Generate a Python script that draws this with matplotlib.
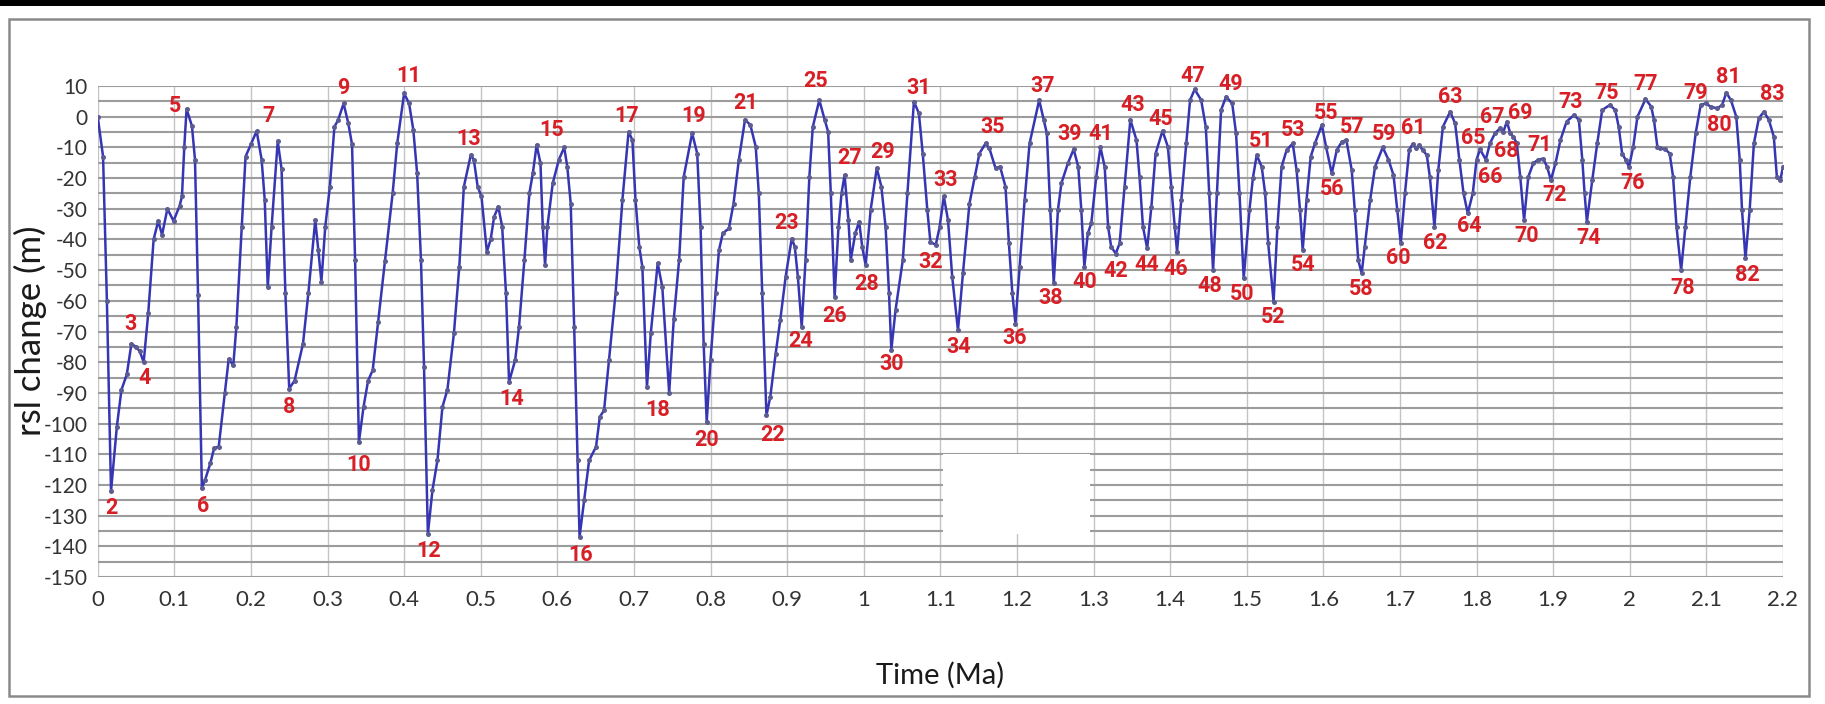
import numpy as np
import matplotlib.pyplot as plt
from matplotlib.patches import Rectangle

# Relative sea level reconstruction, 0-2.2 Ma
time_ma = [
    0.000, 0.007, 0.012, 0.0174, 0.025, 0.031, 0.038, 0.044, 0.050, 0.055,
    0.060, 0.066, 0.073, 0.079, 0.084, 0.091, 0.099, 0.107, 0.110, 0.113,
    0.116, 0.123, 0.127, 0.131, 0.136, 0.140, 0.147, 0.152, 0.158, 0.166,
    0.171, 0.177, 0.181, 0.188, 0.193, 0.200, 0.2075, 0.214, 0.218, 0.222,
    0.227, 0.235, 0.240, 0.245, 0.250, 0.257, 0.268, 0.275, 0.284, 0.288,
    0.292, 0.297, 0.303, 0.309, 0.314, 0.321, 0.327, 0.332, 0.336, 0.341,
    0.347, 0.353, 0.359, 0.366, 0.375, 0.385, 0.391, 0.400, 0.4065, 0.412,
    0.417, 0.422, 0.426, 0.431, 0.437, 0.4435, 0.450, 0.4565, 0.465, 0.472,
    0.478, 0.487, 0.491, 0.496, 0.501, 0.508, 0.513, 0.5175, 0.523, 0.528,
    0.533, 0.537, 0.545, 0.550, 0.557, 0.5635, 0.568, 0.573, 0.578, 0.581,
    0.584, 0.587, 0.594, 0.602, 0.609, 0.613, 0.6175, 0.622, 0.6265, 0.629,
    0.635, 0.6415, 0.6505, 0.6555, 0.661, 0.6675, 0.676, 0.685, 0.693, 0.698,
    0.702, 0.707, 0.711, 0.717, 0.722, 0.731, 0.737, 0.746, 0.752, 0.759,
    0.765, 0.776, 0.7826, 0.787, 0.791, 0.795, 0.800, 0.8065, 0.811, 0.816,
    0.824, 0.830, 0.837, 0.845, 0.852, 0.859, 0.863, 0.8675, 0.873, 0.878,
    0.885, 0.891, 0.898, 0.906, 0.910, 0.914, 0.919, 0.924, 0.929, 0.9335,
    0.942, 0.949, 0.9535, 0.957, 0.962, 0.967, 0.971, 0.975, 0.980, 0.983,
    0.989, 0.994, 0.998, 1.0025, 1.009, 1.017, 1.023, 1.0285, 1.033, 1.036,
    1.0415, 1.051, 1.057, 1.0655, 1.072, 1.077, 1.083, 1.087, 1.094, 1.099,
    1.1045, 1.110, 1.1155, 1.123, 1.1295, 1.138, 1.145, 1.151, 1.159, 1.164,
    1.172, 1.178, 1.185, 1.1895, 1.194, 1.198, 1.2035, 1.210, 1.2165, 1.229,
    1.235, 1.239, 1.2435, 1.248, 1.2535, 1.258, 1.2665, 1.274, 1.280, 1.284,
    1.288, 1.2925, 1.297, 1.3035, 1.309, 1.3145, 1.319, 1.323, 1.329, 1.334,
    1.3405, 1.348, 1.356, 1.360, 1.3645, 1.370, 1.3755, 1.381, 1.390, 1.397,
    1.4015, 1.406, 1.409, 1.4145, 1.421, 1.426, 1.432, 1.4405, 1.4465, 1.451,
    1.456, 1.461, 1.4665, 1.473, 1.481, 1.486, 1.4905, 1.496, 1.5035, 1.508,
    1.513, 1.5195, 1.524, 1.528, 1.535, 1.540, 1.5455, 1.552, 1.560, 1.565,
    1.5695, 1.573, 1.578, 1.5835, 1.589, 1.598, 1.6035, 1.611, 1.6175, 1.624,
    1.630, 1.637, 1.641, 1.6455, 1.650, 1.654, 1.661, 1.6675, 1.6775, 1.685,
    1.6915, 1.6965, 1.701, 1.7065, 1.712, 1.7165, 1.721, 1.725, 1.7295, 1.735,
    1.739, 1.745, 1.750, 1.756, 1.7655, 1.772, 1.7775, 1.783, 1.7885, 1.795,
    1.800, 1.8045, 1.812, 1.8175, 1.824, 1.8305, 1.835, 1.8395, 1.844, 1.848,
    1.8525, 1.857, 1.862, 1.8675, 1.874, 1.8805, 1.887, 1.892, 1.897, 1.903,
    1.9095, 1.9175, 1.927, 1.9335, 1.938, 1.941, 1.944, 1.951, 1.9575, 1.964,
    1.974, 1.981, 1.9855, 1.990, 1.9945, 1.999, 2.0045, 2.010, 2.0205, 2.028,
    2.0315, 2.036, 2.040, 2.0465, 2.052, 2.0565, 2.061, 2.067, 2.0725, 2.079,
    2.086, 2.0925, 2.099, 2.1055, 2.114, 2.1205, 2.126, 2.132, 2.139, 2.1435,
    2.1465, 2.151, 2.1565, 2.162, 2.1685, 2.175, 2.1815, 2.188, 2.192, 2.1965,
    2.200,
]
rsl_m = [
    0.0, -13.0, -60.0, -122.0, -101.0, -89.0, -84.0, -74.0, -75.0, -76.5,
    -80.0, -64.0, -40.0, -34.0, -38.5, -30.0, -34.0, -29.0, -26.0, -10.0,
    2.5, -3.0, -14.0, -58.0, -121.0, -118.5, -113.0, -108.0, -107.5, -90.0,
    -79.0, -81.0, -68.5, -36.0, -13.0, -9.0, -4.7, -14.0, -27.0, -55.5,
    -36.0, -8.0, -17.0, -57.5, -88.6, -86.0, -74.0, -57.5, -33.7, -43.5,
    -53.8, -36.0, -23.0, -3.3, -1.0, 4.3, -2.0, -9.0, -46.7, -106.0,
    -94.6, -86.0, -82.6, -67.0, -47.0, -25.0, -8.7, 7.6, 4.3, -4.3,
    -18.5, -46.7, -81.5, -136.0, -121.7, -112.0, -94.6, -89.0, -70.6, -49.0,
    -22.8, -12.5, -14.0, -22.8, -26.0, -44.0, -40.0, -32.6, -29.3, -35.9,
    -57.6, -86.4, -79.3, -68.5, -46.7, -25.0, -18.5, -9.2, -15.2, -35.9,
    -48.4, -35.9, -21.7, -14.0, -10.0, -16.3, -28.3, -68.5, -112.0, -137.0,
    -125.0, -112.0, -107.6, -97.8, -95.7, -79.3, -57.6, -27.0, -4.9, -7.6,
    -27.0, -42.4, -49.0, -88.0, -70.6, -47.8, -55.4, -90.0, -66.0, -46.7,
    -19.6, -5.4, -12.0, -35.9, -74.0, -99.5, -79.3, -57.6, -43.5, -38.0,
    -36.4, -28.3, -14.0, -1.0, -2.7, -9.8, -25.0, -57.6, -97.3, -91.3,
    -77.2, -66.3, -52.2, -39.7, -42.4, -52.2, -68.5, -46.7, -19.6, -3.3,
    5.4, -1.0, -4.9, -25.0, -58.7, -35.9, -25.0, -19.0, -33.7, -46.7,
    -38.0, -34.2, -42.4, -48.4, -30.4, -16.8, -22.8, -35.9, -57.6, -76.0,
    -63.0, -46.7, -25.0, 4.9, 1.1, -12.0, -30.4, -40.8, -41.8, -36.0,
    -26.0, -33.7, -52.2, -69.6, -51.0, -28.3, -19.6, -12.0, -8.7, -10.3,
    -16.8, -16.3, -22.8, -41.3, -57.6, -67.4, -48.9, -27.2, -8.7, 5.4,
    -1.0, -5.4, -30.4, -54.3, -30.4, -21.7, -15.2, -10.6, -16.3, -30.4,
    -48.9, -38.0, -34.8, -19.6, -10.0, -16.3, -35.9, -42.4, -44.6, -41.3,
    -22.8, -1.0, -7.6, -19.6, -35.9, -42.9, -29.3, -12.0, -4.6, -9.8,
    -22.8, -35.9, -44.0, -27.2, -8.7, 5.4, 8.9, 5.4, -3.3, -25.0,
    -50.0, -25.0, 2.2, 6.5, 4.3, -5.4, -25.0, -52.7, -30.4, -20.0,
    -12.5, -16.3, -25.0, -41.3, -60.3, -35.9, -16.3, -10.9, -8.7, -17.4,
    -30.4, -43.5, -27.2, -13.0, -8.7, -2.7, -9.8, -18.5, -10.9, -8.2,
    -7.6, -17.4, -30.4, -46.7, -51.0, -42.4, -27.2, -16.3, -10.0, -14.0,
    -19.0, -30.4, -41.3, -25.0, -10.9, -8.9, -10.3, -9.2, -10.9, -12.5,
    -19.6, -35.9, -17.4, -3.3, 1.6, -2.2, -14.0, -25.0, -31.5, -25.0,
    -14.0, -10.6, -14.0, -8.7, -5.4, -3.8, -4.9, -1.6, -5.4, -6.5,
    -8.7, -19.6, -33.7, -19.6, -15.2, -14.0, -13.7, -16.3, -20.7, -15.2,
    -7.6, -1.6, 0.5, -1.0, -14.0, -25.0, -34.2, -20.7, -8.7, 2.2,
    3.8, 2.2, -3.3, -12.0, -14.0, -16.3, -9.8, 0.0, 5.7, 3.3,
    -1.0, -9.8, -10.3, -10.6, -12.0, -19.6, -35.9, -50.0, -35.9, -19.6,
    -5.4, 3.8, 4.3, 3.3, 2.7, 3.8, 7.8, 5.4, 0.0, -14.0,
    -30.4, -46.2, -30.4, -8.7, -0.5, 1.6, -1.0, -6.5, -19.6, -20.7,
    -16.3,
]

# Numbered highstands (odd) and lowstands (even) and the time of each one
event_ids = list(range(2, 84))
event_time = [
    0.0174, 0.044, 0.060, 0.116, 0.136, 0.2075, 0.250, 0.321, 0.341, 0.400,
    0.431, 0.487, 0.537, 0.609, 0.629, 0.693, 0.746, 0.776, 0.795, 0.845,
    0.873, 0.906, 0.919, 0.942, 0.962, 0.975, 1.0025, 1.017, 1.036, 1.0655,
    1.094, 1.1045, 1.123, 1.159, 1.198, 1.229, 1.248, 1.274, 1.288, 1.309,
    1.329, 1.348, 1.370, 1.390, 1.409, 1.432, 1.456, 1.473, 1.496, 1.513,
    1.535, 1.560, 1.573, 1.598, 1.611, 1.630, 1.650, 1.6775, 1.701, 1.7165,
    1.745, 1.7655, 1.7885, 1.8045, 1.812, 1.8305, 1.848, 1.8395, 1.862, 1.887,
    1.897, 1.927, 1.944, 1.974, 1.999, 2.0205, 2.067, 2.099, 2.114, 2.126,
    2.151, 2.175,
]

# label offsets from the point (pixels, +dy = downwards)
label_offset = {
    2: (0, 17), 3: (-1, -20), 4: (1, 16), 5: (-12, -3), 6: (1, 18), 7: (12, -15),
    8: (0, 18), 9: (0, -15), 10: (0, 23), 11: (5, -17), 12: (1, 17), 13: (-2, -16),
    14: (3, 17), 15: (-13, -17), 16: (1, 18), 17: (-2, -16), 18: (-12, 17),
    19: (1, -17), 20: (0, 18), 21: (1, -17), 22: (6, 20), 23: (-5, -16), 24: (-1, 14),
    25: (-4, -19), 26: (0, 19), 27: (5, -17), 28: (1, 19), 29: (6, -16), 30: (0, 14),
    31: (5, -14), 32: (-5, 17), 33: (2, -16), 34: (1, 17), 35: (7, -16), 36: (-1, 14),
    37: (3, -14), 38: (-3, 15), 39: (-4, -15), 40: (0, 15), 41: (0, -13), 42: (0, 17),
    43: (2, -15), 44: (0, 17), 45: (-2, -12), 46: (-1, 17), 47: (-2, -13), 48: (-3, 16),
    49: (5, -13), 50: (-2, 16), 51: (4, -14), 52: (0, 15), 53: (0, -13), 54: (0, 15),
    55: (4, -12), 56: (0, 16), 57: (6, -13), 58: (0, 16), 59: (1, -13), 60: (-2, 15),
    61: (1, -16), 62: (1, 16), 63: (0, -15), 64: (2, 13), 65: (-7, -11), 66: (4, 17),
    67: (-8, -11), 68: (-7, 14), 69: (13, -9), 70: (3, 16), 71: (-4, -14), 72: (4, 15),
    73: (-3, -13), 74: (2, 16), 75: (-3, -12), 76: (4, 16), 77: (0, -15), 78: (2, 18),
    79: (-10, -10), 80: (2, 17), 81: (2, -16), 82: (2, 17), 83: (8, -18),
}

plt.rcParams['font.family'] = ['Lato', 'DejaVu Sans']
plt.rcParams['axes.unicode_minus'] = False
LABEL_FONT = ['Liberation Sans Narrow', 'Roboto', 'DejaVu Sans']

W, H = 1825, 704
fig = plt.figure(figsize=(W / 100, H / 100), dpi=100)
fig.patch.set_facecolor('white')

# outer chart border and dark strip along the top edge
fig.patches.append(Rectangle((9 / W, 1 - 696 / H), 1800 / W, 677 / H,
                             transform=fig.transFigure, fill=False,
                             edgecolor='#8a8a8a', linewidth=1.8, zorder=0))
fig.patches.append(Rectangle((0, 1 - 6 / H), 1, 6 / H, transform=fig.transFigure,
                             facecolor='black', edgecolor='none', zorder=0))

ax = fig.add_axes([97.7 / W, 1 - 577 / H, (1783 - 97.7) / W, (577 - 86) / H])
ax.set_xlim(0, 2.2)
ax.set_ylim(-150, 10)

xt = np.round(np.arange(0, 2.21, 0.1), 1)
ax.set_xticks(xt)
ax.set_xticklabels([f'{v:g}' for v in xt])
yt = np.arange(-150, 11, 10)
ax.set_yticks(yt)
ax.set_yticklabels([str(v) for v in yt])
ax.set_yticks(np.arange(-145, 10, 10), minor=True)

ax.set_axisbelow(True)
ax.grid(axis='y', which='both', color='#9c9c9c', linewidth=1.5)
ax.grid(axis='x', which='major', color='#c4c4c4', linewidth=1.0)
for s in ax.spines.values():
    s.set_visible(False)
ax.tick_params(which='both', length=0)
ax.tick_params(axis='y', pad=7, labelsize=15, labelcolor='#333333')
ax.tick_params(axis='x', pad=9, labelsize=16, labelcolor='#333333')

# blank patch over part of the lower grid
ax.add_patch(Rectangle((1.103, -136.0), 0.193, 26, facecolor='white',
                       edgecolor='none', zorder=1))

ax.plot(time_ma, rsl_m, color='#3636b4', linewidth=1.8, zorder=3)
ax.plot(time_ma, rsl_m, linestyle='none', marker='o', markersize=3.6,
        markerfacecolor='#5c5c92', markeredgecolor='none', zorder=4)

rsl_at = dict(zip(time_ma, rsl_m))
for n, t in zip(event_ids, event_time):
    dx, dy = label_offset[n]
    ax.annotate(str(n), (t, rsl_at[t]), xytext=(dx, -dy), textcoords='offset pixels',
                ha='center', va='center', fontsize=15.5, fontweight='bold',
                family=LABEL_FONT, color='#d91f26', zorder=5,
                annotation_clip=False)

fig.text((97.7 + 1783) / 2 / W, 1 - 675 / H, 'Time (Ma)', ha='center', va='center',
         fontsize=21, color='#1a1a1a')
fig.text(30 / W, 1 - 331 / H, 'rsl change (m)', ha='center', va='center',
         rotation=90, fontsize=25, color='#1a1a1a')

fig.savefig('out.png', dpi=100, facecolor='white')
